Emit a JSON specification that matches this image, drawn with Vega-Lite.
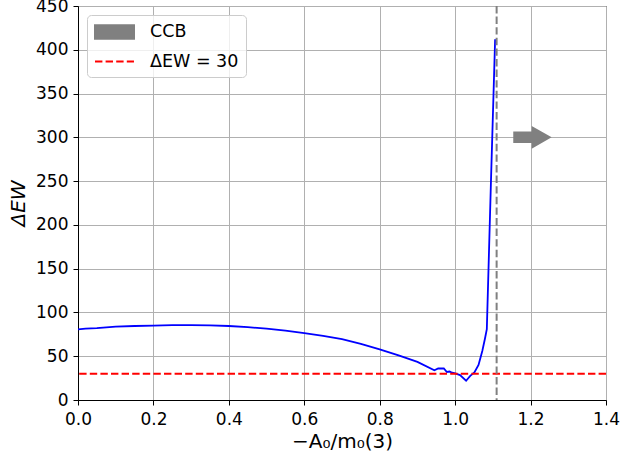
{
  "$schema": "https://vega.github.io/schema/vega-lite/v6.json",
  "width": 528,
  "height": 394,
  "autosize": {"type": "none"},
  "padding": {"left": 78, "top": 6, "right": 15, "bottom": 52},
  "background": "white",
  "config": {
    "font": "DejaVu Sans",
    "view": {"stroke": "black", "strokeWidth": 1},
    "axis": {
      "labelFont": "DejaVu Sans", "titleFont": "DejaVu Sans",
      "labelFontSize": 17, "titleFontSize": 20, "titleFontWeight": "normal",
      "labelColor": "black", "titleColor": "black", "labelFlush": false, "labelOverlap": false,
      "tickColor": "black", "domainColor": "black", "tickSize": 5,
      "gridColor": "#b0b0b0", "gridWidth": 1, "labelPadding": 5
    }
  },
  "datasets": {
    "curve": [
      {"x": 0.0, "y": 80.7}, {"x": 0.02, "y": 81.5}, {"x": 0.05, "y": 82}, {"x": 0.1, "y": 83.8},
      {"x": 0.15, "y": 84.5}, {"x": 0.2, "y": 85}, {"x": 0.25, "y": 85.5}, {"x": 0.3, "y": 85.6},
      {"x": 0.35, "y": 85.2}, {"x": 0.4, "y": 84.5}, {"x": 0.45, "y": 83.2}, {"x": 0.5, "y": 81.5},
      {"x": 0.55, "y": 79.2}, {"x": 0.6, "y": 76.3}, {"x": 0.65, "y": 73.2}, {"x": 0.7, "y": 69.5},
      {"x": 0.75, "y": 64}, {"x": 0.8, "y": 57.8}, {"x": 0.85, "y": 51}, {"x": 0.9, "y": 43.5},
      {"x": 0.945, "y": 34}, {"x": 0.955, "y": 36}, {"x": 0.97, "y": 36}, {"x": 0.978, "y": 32},
      {"x": 0.985, "y": 32.5}, {"x": 0.99, "y": 31.5}, {"x": 1.0, "y": 30.5}, {"x": 1.013, "y": 28.5},
      {"x": 1.029, "y": 22}, {"x": 1.04, "y": 27.5}, {"x": 1.051, "y": 31.5}, {"x": 1.062, "y": 40},
      {"x": 1.072, "y": 56}, {"x": 1.079, "y": 70}, {"x": 1.084, "y": 81}, {"x": 1.095, "y": 250},
      {"x": 1.106, "y": 412}
    ],
    "threshold": [{"y": 30, "series": "ΔEW = 30"}],
    "ccb": [{"x": 1.11}],
    "arrow": [{"x": 1.205, "y": 300, "series": "CCB"}]
  },
  "layer": [
    {
      "data": {"name": "curve"},
      "mark": {"type": "line", "color": "#0000ff", "strokeWidth": 1.8, "clip": true},
      "encoding": {
        "x": {"field": "x", "type": "quantitative",
          "scale": {"domain": [0, 1.4], "nice": false},
          "axis": {"values": [0, 0.2, 0.4, 0.6, 0.8, 1.0, 1.2, 1.4], "format": ".1f", "title": "−A₀/m₀(3)", "titlePadding": 4, "labelPadding": 6}},
        "y": {"field": "y", "type": "quantitative",
          "scale": {"domain": [0, 450], "nice": false},
          "axis": {"values": [0, 50, 100, 150, 200, 250, 300, 350, 400, 450], "title": "ΔEW", "titleFontStyle": "italic", "titlePadding": 7}}
      }
    },
    {
      "data": {"name": "threshold"},
      "mark": {"type": "rule", "strokeDash": [7.4, 3.2], "strokeWidth": 2},
      "encoding": {
        "y": {"field": "y", "type": "quantitative"},
        "color": {"field": "series", "type": "nominal",
          "scale": {"domain": ["CCB", "ΔEW = 30"], "range": ["#808080", "#ff0000"]},
          "legend": {
            "title": null, "orient": "top-left", "offset": 9,
            "labelFontSize": 17.5, "labelFont": "DejaVu Sans", "labelColor": "black",
            "symbolSize": 324, "labelOffset": 36, "rowPadding": 8.5,
            "padding": 7, "fillColor": "rgba(255,255,255,0.8)", "strokeColor": "#cccccc", "cornerRadius": 4,
            "encode": {"symbols": {"update": {
              "shape": {"signal": "datum.value === 'CCB' ? 'M-1,-0.76L3.33,-0.76L3.33,0.76L-1,0.76Z' : 'M-1,0L3.33,0'"},
              "fill": {"signal": "datum.value === 'CCB' ? '#808080' : 'transparent'"},
              "stroke": {"signal": "datum.value === 'CCB' ? 'transparent' : '#ff0000'"},
              "strokeDash": {"signal": "datum.value === 'CCB' ? [1, 0] : [7.4, 3.2]"},
              "strokeWidth": {"value": 2},
              "size": {"value": 324},
              "opacity": {"value": 1}
            }}}
          }}
      }
    },
    {
      "data": {"name": "ccb"},
      "mark": {"type": "rule", "color": "#808080", "strokeDash": [7.4, 3.2], "strokeWidth": 2},
      "encoding": {"x": {"field": "x", "type": "quantitative"}}
    },
    {
      "data": {"name": "arrow"},
      "mark": {"type": "point", "filled": true, "opacity": 1, "size": 1475,
        "shape": "M-1,-0.3L-0.04,-0.3L-0.04,-0.59L1,0L-0.04,0.59L-0.04,0.3L-1,0.3Z"},
      "encoding": {
        "x": {"field": "x", "type": "quantitative"},
        "y": {"field": "y", "type": "quantitative"},
        "color": {"field": "series", "type": "nominal"}
      }
    }
  ]
}
